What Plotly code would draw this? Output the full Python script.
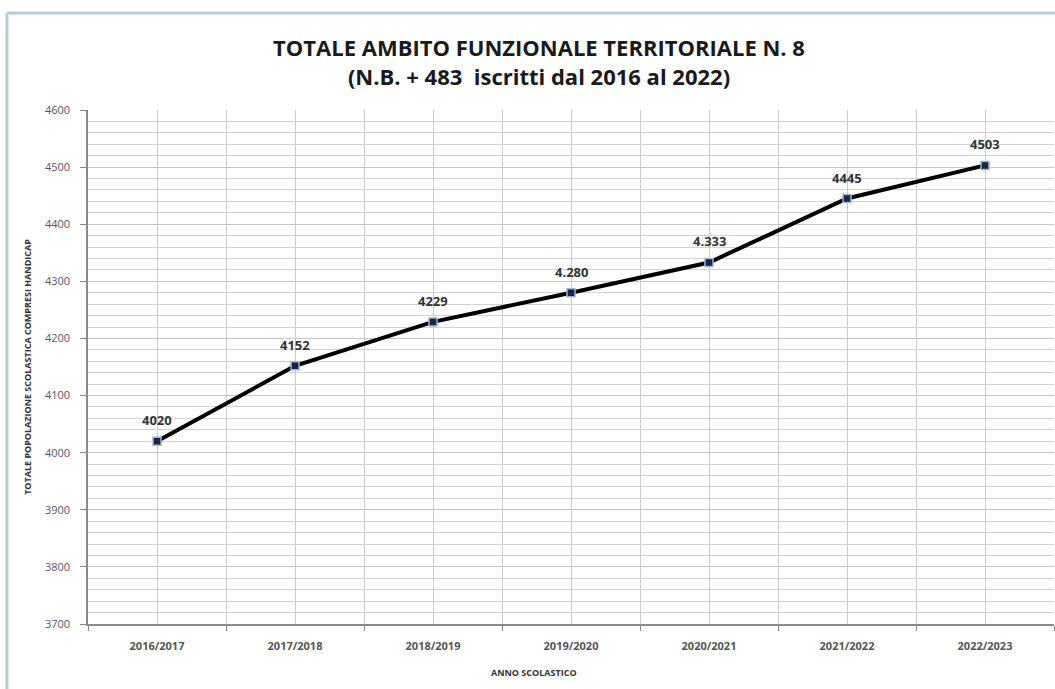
import plotly.graph_objects as go

# dati
anni = ["2016/2017", "2017/2018", "2018/2019", "2019/2020",
        "2020/2021", "2021/2022", "2022/2023"]
iscritti = [4020, 4152, 4229, 4280, 4333, 4445, 4503]
etichette = ["4020", "4152", "4229", "4.280", "4.333", "4445", "4503"]

x_pos = list(range(len(anni)))

fig = go.Figure(go.Scatter(
    x=x_pos,
    y=iscritti,
    mode="lines+markers",
    line=dict(color="#000000", width=4),
    marker=dict(symbol="square", size=8, color="#1b2540",
                line=dict(color="#9fb2d6", width=1.5)),
    showlegend=False,
))

# etichette dei valori sopra i punti
for xv, yv, lab in zip(x_pos, iscritti, etichette):
    fig.add_annotation(x=xv, y=yv, text=f"<b>{lab}</b>", showarrow=False,
                       yshift=21, font=dict(size=13, color="#333333"))

fig.update_layout(
    width=1055,
    height=689,
    paper_bgcolor="white",
    plot_bgcolor="white",
    margin=dict(l=88, r=1, t=110, b=65),
    font=dict(family="Open Sans", color="#333333"),
    title=dict(
        text="<b>TOTALE AMBITO FUNZIONALE TERRITORIALE N. 8</b><br>"
             "<b>(N.B. + 483  iscritti dal 2016 al 2022)</b>",
        x=539 / 1055,
        xanchor="center",
        y=1 - 56 / 689,
        yanchor="middle",
        font=dict(size=22, color="#1a1a1a"),
    ),
    xaxis=dict(
        range=[-0.5, len(anni) - 0.5],
        tickvals=x_pos,
        ticktext=anni,
        showgrid=True,
        gridcolor="#cccccc",
        gridwidth=1,
        ticks="",
        tickfont=dict(size=11, color="#555555", weight="bold"),
        showline=True,
        linecolor="#8a8a8a",
        linewidth=1.5,
        zeroline=False,
        automargin=False,
        ticklabelstandoff=11,
        minor=dict(tick0=-0.5, dtick=1, showgrid=True, gridcolor="#cccccc",
                   ticks="outside", ticklen=5, tickcolor="#8a8a8a"),
    ),
    yaxis=dict(
        range=[3700, 4600],
        dtick=100,
        showgrid=True,
        gridcolor="#c6c6c6",
        gridwidth=1,
        ticks="outside",
        ticklen=6,
        tickcolor="#8a8a8a",
        tickfont=dict(size=11, color="#5a5566"),
        ticklabelstandoff=8,
        showline=True,
        linecolor="#8a8a8a",
        linewidth=1.5,
        zeroline=False,
        automargin=False,
        title=dict(text="<b>TOTALE POPOLAZIONE SCOLASTICA COMPRESI HANDICAP</b>",
                   font=dict(size=9, color="#333333"), standoff=12),
        minor=dict(dtick=20, showgrid=True, gridcolor="#d2d2d2"),
    ),
)

fig.add_annotation(
    text="<b>ANNO SCOLASTICO</b>",
    xref="paper", yref="paper",
    x=(534 - 88) / 966, y=(624 - 672) / 514,
    xanchor="center", yanchor="middle",
    showarrow=False,
    font=dict(size=9, color="#333333"),
)

# cornice del grafico (bordo in alto e a sinistra)
bx = (7 - 88) / 966
by = (624 - 13) / 514
fig.add_shape(type="line", xref="paper", yref="paper",
              x0=bx, x1=1.01, y0=by, y1=by,
              line=dict(color="#b3cdd9", width=3))
fig.add_shape(type="line", xref="paper", yref="paper",
              x0=bx, x1=bx, y0=by, y1=-0.2,
              line=dict(color="#b3cdd9", width=3))

fig.write_html("out.html", config={"displayModeBar": False},
               post_script="document.body.style.margin='0';")
